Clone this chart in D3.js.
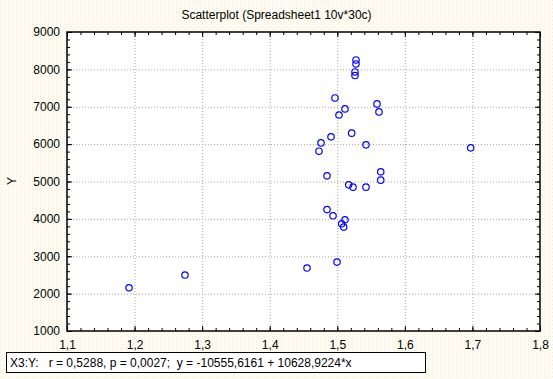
<!DOCTYPE html>
<html><head><meta charset="utf-8">
<script src="https://cdn.jsdelivr.net/npm/d3@7"></script>
<style>body{margin:0;padding:0;overflow:hidden}svg{display:block}text{font-family:"Liberation Sans",Arial,sans-serif;}</style>
</head><body>
<script>
const xValues = [1.1918,1.2746,1.4552,1.4996,1.4848,1.4937,1.5114,1.5065,1.5095,1.5169,1.5233,1.5425,1.5643,1.5643,1.4848,1.4729,1.4759,1.4907,1.5213,1.5425,1.6975,1.5025,1.5114,1.4966,1.5588,1.5617,1.5277,1.5277,1.5262,1.5262];
const yValues = [2157,2497,2684,2844,4248,4082,3975,3868,3780,4911,4849,4849,5258,5036,5151,5811,6033,6194,6293,5980,5900,6779,6942,7236,7076,6862,8252,8145,7931,7835];
const xTicks = [1.1,1.2,1.3,1.4,1.5,1.6,1.7,1.8];
const yTicks = [1000,2000,3000,4000,5000,6000,7000,8000,9000];
const titleText = "Scatterplot (Spreadsheet1 10v*30c)";
const yLabel = "Y";
const statsText = "X3:Y:   r = 0,5288, p = 0,0027;  y = -10555,6161 + 10628,9224*x";

const W = 553, H = 379;
const L = 67, R = 540, T = 32, B = 331;
const svg = d3.select("body").append("svg").attr("width", W).attr("height", H);
const defs = svg.append("defs");
const pat = defs.append("pattern").attr("id","bg").attr("width",4).attr("height",4).attr("patternUnits","userSpaceOnUse");
pat.append("rect").attr("width",4).attr("height",4).attr("fill","#FFFDF3");
pat.append("rect").attr("x",0).attr("y",0).attr("width",1).attr("height",1).attr("fill","#F3ECD4");
pat.append("rect").attr("x",2).attr("y",2).attr("width",1).attr("height",1).attr("fill","#F7F1DE");
svg.append("rect").attr("width",W).attr("height",H).attr("fill","url(#bg)");

const x = d3.scaleLinear().domain([1.1,1.8]).range([L,R]);
const y = d3.scaleLinear().domain([1000,9000]).range([B,T]);
const loc = d3.formatLocale({decimal:",",thousands:"",grouping:[3],currency:["",""]});
const fx = loc.format(".1f"), fy = loc.format("d");

svg.append("rect").attr("x",L).attr("y",T).attr("width",R-L).attr("height",B-T).attr("fill","#fff");

// grid
const gridStyle = g => { g.select(".domain").remove(); g.selectAll("line").attr("stroke","#A8A8A8").attr("stroke-dasharray","1,2"); g.selectAll("text").remove(); };
svg.append("g").attr("transform",`translate(0,${B})`).call(d3.axisBottom(x).tickValues(xTicks.slice(1,-1)).tickSize(-(B-T)).tickFormat("")).call(gridStyle);
svg.append("g").attr("transform",`translate(${L},0)`).call(d3.axisLeft(y).tickValues(yTicks.slice(1,-1)).tickSize(-(R-L)).tickFormat("")).call(gridStyle);

// minor ticks
const xMinor = d3.range(1.1, 1.8001, 0.02);
const yMinor = d3.range(1000, 9001, 200);
const tickStyle = g => { g.select(".domain").remove(); g.selectAll("line").attr("stroke","#000"); };
svg.append("g").attr("transform",`translate(0,${B})`).call(d3.axisBottom(x).tickValues(xMinor).tickSize(-3).tickFormat("")).call(tickStyle);
svg.append("g").attr("transform",`translate(0,${T})`).call(d3.axisTop(x).tickValues(xMinor).tickSize(-3).tickFormat("")).call(tickStyle);
svg.append("g").attr("transform",`translate(${L},0)`).call(d3.axisLeft(y).tickValues(yMinor).tickSize(-3).tickFormat("")).call(tickStyle);
svg.append("g").attr("transform",`translate(${R},0)`).call(d3.axisRight(y).tickValues(yMinor).tickSize(-3).tickFormat("")).call(tickStyle);
svg.append("g").attr("transform",`translate(0,${B})`).call(d3.axisBottom(x).tickValues(xTicks).tickSize(-5).tickFormat("")).call(tickStyle);
svg.append("g").attr("transform",`translate(0,${T})`).call(d3.axisTop(x).tickValues(xTicks).tickSize(-5).tickFormat("")).call(tickStyle);
svg.append("g").attr("transform",`translate(${L},0)`).call(d3.axisLeft(y).tickValues(yTicks).tickSize(-5).tickFormat("")).call(tickStyle);
svg.append("g").attr("transform",`translate(${R},0)`).call(d3.axisRight(y).tickValues(yTicks).tickSize(-5).tickFormat("")).call(tickStyle);

// labels
const xl = svg.append("g").attr("transform",`translate(0,${B})`).call(d3.axisBottom(x).tickValues(xTicks).tickSize(0).tickPadding(9).tickFormat(fx));
xl.select(".domain").remove();
xl.selectAll("text").attr("font-size",12).attr("fill","#000").attr("font-family","Liberation Sans, Arial, sans-serif");
const yl = svg.append("g").attr("transform",`translate(${L},0)`).call(d3.axisLeft(y).tickValues(yTicks).tickSize(0).tickPadding(7).tickFormat(fy));
yl.select(".domain").remove();
yl.selectAll("text").attr("font-size",12).attr("fill","#000").attr("font-family","Liberation Sans, Arial, sans-serif");

// frame
svg.append("rect").attr("x",L).attr("y",T).attr("width",R-L).attr("height",B-T).attr("fill","none").attr("stroke","#000").attr("stroke-width",1.5);

// points
svg.append("g").selectAll("circle").data(xValues.map((v,i)=>[v,yValues[i]])).join("circle")
  .attr("cx",d=>x(d[0])).attr("cy",d=>y(d[1])).attr("r",3.2)
  .attr("fill","none").attr("stroke","#0000FF").attr("stroke-width",1.2);

// title
svg.append("text").attr("x",W/2).attr("y",19).attr("text-anchor","middle").attr("font-size",12).text(titleText);
svg.append("text").attr("transform","translate(16,181) rotate(-90)").attr("text-anchor","middle").attr("font-size",12).text(yLabel);

// stats box
svg.append("rect").attr("x",6.5).attr("y",352.5).attr("width",419).attr("height",20).attr("fill","#fff").attr("stroke","#000");
svg.append("text").attr("x",10).attr("y",367).attr("font-size",12).attr("xml:space","preserve").style("white-space","pre").text(statsText);
</script>
</body></html>
